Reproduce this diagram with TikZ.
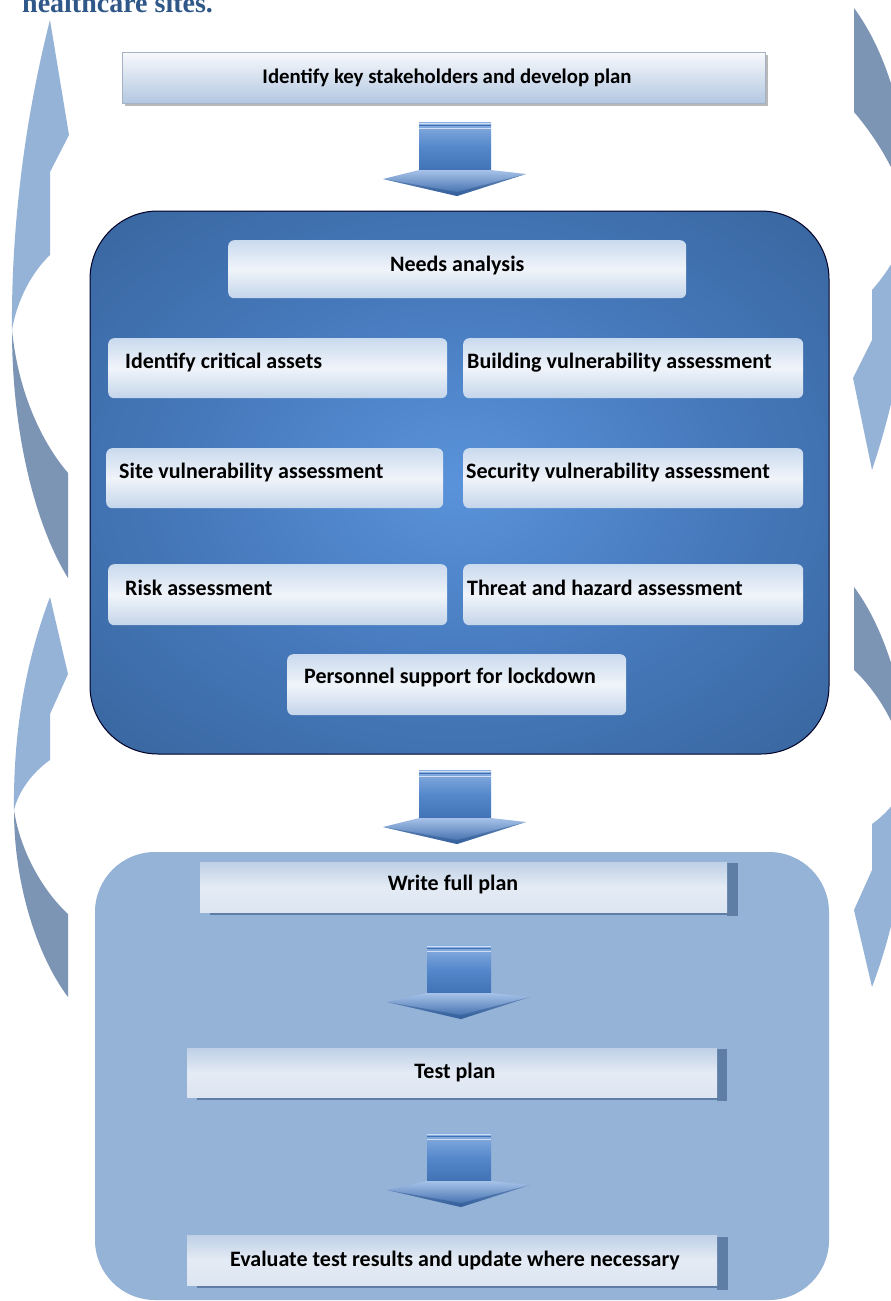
\documentclass[tikz,border=0pt]{standalone}
\usepackage{fontspec}
\setmainfont{Carlito}
\newfontfamily\titlefont{Liberation Serif}
\definecolor{pnlC}{HTML}{5A93DA}
\definecolor{pnlM}{HTML}{4679BC}
\definecolor{pnlE}{HTML}{305A8C}
\definecolor{lpanel}{HTML}{95B3D7}
\definecolor{sideL}{HTML}{95B3D7}
\definecolor{sideD}{HTML}{7D95B5}
\definecolor{barcol}{HTML}{5E7EA6}
\definecolor{titlecol}{HTML}{2F5889}
\definecolor{ashA}{HTML}{8AB0E0}
\definecolor{ashM}{HTML}{5487CB}
\definecolor{ashB}{HTML}{3F70B3}
\definecolor{ahA}{HTML}{A7C3E8}
\definecolor{ahB}{HTML}{3766A8}
\definecolor{ibT}{HTML}{CADAEE}
\definecolor{ibM}{HTML}{F0F4FA}
\definecolor{ibB}{HTML}{C4D5EA}
\definecolor{tbT}{HTML}{F7F9FC}
\definecolor{tbB}{HTML}{B3C7E1}
\definecolor{bbT}{HTML}{BFD0E6}
\definecolor{bbM}{HTML}{E4EBF5}
\definecolor{bbB}{HTML}{DCE5F1}
\pgfdeclareradialshading{panelshade}{\pgfpoint{0bp}{0bp}}{color(0bp)=(pnlC); color(18bp)=(pnlM); color(46bp)=(pnlE); color(75bp)=(pnlE)}
\newcommand{\barrow}[3]{%
\begin{scope}[shift={(#1,#2)}]
 \shade[top color=ashA, bottom color=ashB, middle color=ashM] (-#3,0) rectangle (#3,50);
 \draw[white!60!ashA, line width=0.8pt] (-#3,1.5) -- (#3,1.5) (-#3,6) -- (#3,6);
 \draw[ashB, line width=0.7pt] (-#3,3.8) -- (#3,3.8);
 \shade[top color=ahA, bottom color=ahB] (-72,57) -- (-#3,48) -- (#3,48) -- (71,52) -- (2,74) -- cycle;
 \fill[ahB!85!black, opacity=0.5] (-72,57) -- (2,74) -- (71,52) -- (2,70) -- cycle;
\end{scope}}
\tikzset{
 inbox/.style={rounded corners=6pt, top color=ibT, bottom color=ibB, middle color=ibM, draw=none, inner sep=0pt, anchor=north west},
 topbox/.style={top color=tbT, bottom color=tbB, draw=tbB!70!gray, line width=0.6pt, inner sep=0pt, anchor=north west},
 botbox/.style={top color=bbT, bottom color=bbB, middle color=bbM, draw=none, inner sep=0pt, anchor=north west},
 txt/.style={font=\bfseries\fontsize{22}{26}\selectfont, text=black, inner sep=0pt},
 toptxt/.style={font=\bfseries\fontsize{20.8}{24}\selectfont, text=black, inner sep=0pt},
 sidelight/.style={fill=sideL, draw=none},
 sidedark/.style={fill=sideD, draw=none},
 shadowbar/.style={fill=barcol, draw=none}
}
\begin{document}
\begin{tikzpicture}[x=1pt,y=-1pt]
\useasboundingbox (0,0) rectangle (891,1301);
\clip (0,0) rectangle (891,1301);
\fill[white] (0,0) rectangle (891,1301);
% title
\node[anchor=base west, font=\titlefont\bfseries\fontsize{28}{31}\selectfont, text=titlecol, inner sep=0pt] (title) at (22,12) {healthcare sites.};
% side arrows left
\fill[sidelight] (12,330) .. controls (11,220) and (27,110) .. (50,20) -- (69,135) -- (50,172) -- (50,255) .. controls (32,272) and (17,300) .. (12,330) -- cycle;
\fill[sidedark] (12,330) .. controls (12,440) and (38,530) .. (68,578) -- (68,473) .. controls (40,440) and (18,390) .. (12,330) -- cycle;
\fill[sidelight] (14,810) .. controls (13,720) and (30,650) .. (50,597) -- (68,674) -- (50,714) -- (50,760) .. controls (33,772) and (19,790) .. (14,810) -- cycle;
\fill[sidedark] (14,810) .. controls (14,890) and (40,960) .. (68,997) -- (68,914) .. controls (42,890) and (20,850) .. (14,810) -- cycle;
% side arrows right
\fill[sidelight] (910,220) .. controls (912,330) and (892,410) .. (872,470) -- (853,378) -- (872,340) -- (872,290) .. controls (885,275) and (900,255) .. (910,220) -- cycle;
\fill[sidedark] (854,8) -- (854,112) .. controls (878,140) and (902,180) .. (910,220) .. controls (910,120) and (885,50) .. (854,8) -- cycle;
\begin{scope}[shift={(922,1584)}, rotate=180]
\fill[sidelight] (14,810) .. controls (13,720) and (30,650) .. (50,597) -- (68,674) -- (50,714) -- (50,760) .. controls (33,772) and (19,790) .. (14,810) -- cycle;
\fill[sidedark] (14,810) .. controls (14,890) and (40,960) .. (68,997) -- (68,914) .. controls (42,890) and (20,850) .. (14,810) -- cycle;
\end{scope}
% top box
\fill[gray!55] (125,55) rectangle (768,106);
\node[topbox, minimum width=643pt, minimum height=51pt] (stake) at (122,52) {};
\node[toptxt] at (447,78) {Identify key stakeholders and develop plan};
\barrow{455}{122}{36}
% dark panel
\path[shading=panelshade, draw=black!85!blue, line width=1pt, rounded corners=68pt] (90,211) rectangle (829,754);
\node[inbox, minimum width=458pt, minimum height=58pt] (needs) at (228,240) {};
\node[txt, yshift=4pt] at (needs.center) {Needs analysis};
\node[inbox, minimum width=339pt, minimum height=60pt] (ica) at (108,338) {};
\node[txt, anchor=west, xshift=17pt, yshift=6pt] at (ica.west) {Identify critical assets};
\node[inbox, minimum width=340pt, minimum height=60pt] (bva) at (463,338) {};
\node[txt, anchor=west, xshift=4pt, yshift=6pt] at (bva.west) {Building vulnerability assessment};
\node[inbox, minimum width=337pt, minimum height=60pt] (sva) at (106,448) {};
\node[txt, anchor=west, xshift=13pt, yshift=6pt] at (sva.west) {Site vulnerability assessment};
\node[inbox, minimum width=340pt, minimum height=60pt] (secva) at (463,448) {};
\node[txt, anchor=west, xshift=3pt, yshift=6pt] at (secva.west) {Security vulnerability assessment};
\node[inbox, minimum width=339pt, minimum height=61pt] (risk) at (108,564) {};
\node[txt, anchor=west, xshift=17pt, yshift=7pt] at (risk.west) {Risk assessment};
\node[inbox, minimum width=340pt, minimum height=61pt] (tha) at (463,564) {};
\node[txt, anchor=west, xshift=4pt, yshift=7pt] at (tha.west) {Threat and hazard assessment};
\node[inbox, minimum width=339pt, minimum height=61pt] (pers) at (287,654) {};
\node[txt, anchor=west, xshift=17pt, yshift=7pt] at (pers.west) {Personnel support for lockdown};
\barrow{455}{770}{36}
% light panel
\fill[lpanel, rounded corners=60pt] (95,852) rectangle (829,1300);
% write full plan
\fill[shadowbar] (727,863) rectangle (738,916);
\fill[shadowbar] (210,912) rectangle (738,915);
\node[botbox, minimum width=527pt, minimum height=50pt] (write) at (200,862) {};
\node[txt] at (453,884) {Write full plan};
\barrow{459}{945}{32}
\fill[shadowbar] (717,1049) rectangle (727,1101);
\fill[shadowbar] (197,1097) rectangle (727,1100);
\node[botbox, minimum width=530pt, minimum height=49pt] (test) at (187,1048) {};
\node[txt] at (455,1072) {Test plan};
\barrow{459}{1133}{32}
\fill[shadowbar] (717,1237) rectangle (728,1290);
\fill[shadowbar] (197,1285) rectangle (728,1288);
\node[botbox, minimum width=530pt, minimum height=50pt] (eval) at (187,1235) {};
\node[txt] at (455,1260) {Evaluate test results and update where necessary};
\end{tikzpicture}
\end{document}
